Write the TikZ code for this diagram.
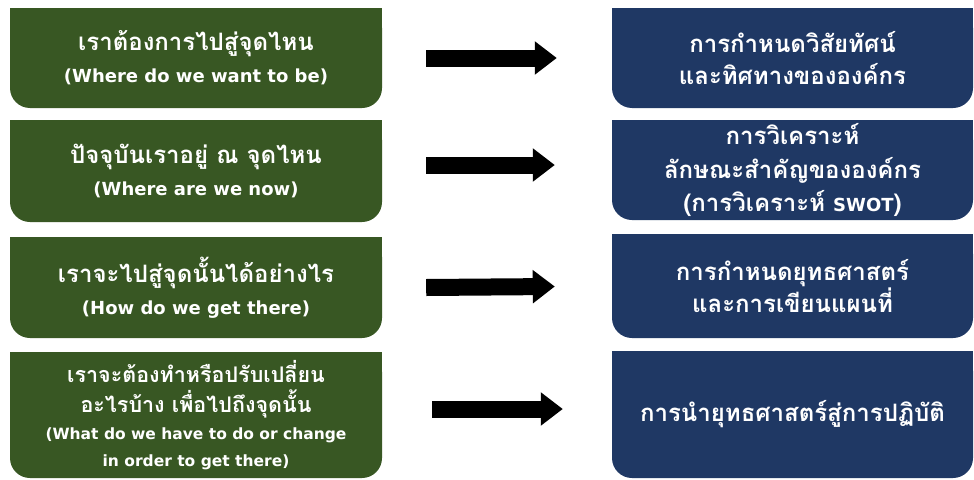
\documentclass[tikz,border=0pt]{standalone}
\usepackage{fontspec}
\newfontfamily\thaifont[Script=Thai]{Loma}
\newfontfamily\enfont{DejaVu Sans}
\usetikzlibrary{arrows.meta,backgrounds}
\definecolor{gbox}{HTML}{385723}
\definecolor{nbox}{HTML}{1F3864}
\tikzset{
  boxbase/.style={rectangle, rounded corners=20pt, text=white, align=center, inner sep=0pt,
    font=\fontsize{24}{32}\selectfont},
  lbox/.style={boxbase, fill=gbox, minimum width=372pt},
  rbox/.style={boxbase, fill=nbox, minimum width=361pt},
  bigarrow/.style={line width=17pt, -{Triangle[width=32pt,length=22pt]}},
}
\newcommand\thx[1]{{\thaifont\bfseries #1}}
\newcommand\enx[1]{{\enfont\bfseries\fontsize{18}{32}\selectfont #1}}
\newcommand\ensm[1]{{\enfont\bfseries\fontsize{15.5}{26.5}\selectfont #1}}
\begin{document}
\begin{tikzpicture}[x=1pt,y=-1pt]
\useasboundingbox (0,0) rectangle (974,479);
% left boxes
\node[lbox, minimum height=100pt] (L1) at (196,58)
  {\thx{เราต้องการไปสู่จุดไหน}\\ \enx{(Where do we want to be)}};
\node[lbox, minimum height=102pt] (L2) at (196,171)
  {\thx{ปัจจุบันเราอยู่ ณ จุดไหน}\\ \enx{(Where are we now)}};
\node[lbox, minimum height=101pt] (L3) at (196,287.5)
  {\thx{เราจะไปสู่จุดนั้นได้อย่างไร}\\ \enx{(How do we get there)}};
\node[lbox, minimum height=126pt, font=\fontsize{21.5}{30}\selectfont] (L4) at (196,415)
  {\thx{เราจะต้องทำหรือปรับเปลี่ยน}\\ \thx{อะไรบ้าง เพื่อไปถึงจุดนั้น}\\[-3pt] \ensm{(What do we have to do or change}\\[-3pt] \ensm{in order to get there)}};
% right boxes
\node[rbox, minimum height=100pt] (R1) at (792.5,58)
  {\thx{การกำหนดวิสัยทัศน์}\\ \thx{และทิศทางขององค์กร}};
\node[rbox, minimum height=100pt, font=\fontsize{24}{33.5}\selectfont] (R2) at (792.5,170)
  {\thx{การวิเคราะห์}\\ \thx{ลักษณะสำคัญขององค์กร}\\ \thx{(การวิเคราะห์ }\enx{SWOT}\thx{)}};
\node[rbox, minimum height=104pt] (R3) at (792.5,286)
  {\thx{การกำหนดยุทธศาสตร์}\\ \thx{และการเขียนแผนที่}};
\node[rbox, minimum height=127pt] (R4) at (792.5,414.5)
  {\thx{การนำยุทธศาสตร์สู่การปฏิบัติ}};
% white page and square top corners
\begin{scope}[on background layer]
  \fill[white] (0,0) rectangle (974,479);
  \foreach \n in {L1,L2,L3,L4} \fill[gbox] (\n.north west) rectangle (\n.east);
  \foreach \n in {R1,R2,R3,R4} \fill[nbox] (\n.north west) rectangle (\n.east);
\end{scope}
% arrows
\draw[bigarrow] ([xshift=44pt]L1.east) -- ([xshift=-55pt]R1.west);
\draw[bigarrow] ([xshift=44pt,yshift=6pt]L2.east) -- ([xshift=-57pt,yshift=5pt]R2.west);
\draw[bigarrow] ([xshift=44pt]L3.east) -- ([xshift=-57pt,yshift=-0.5pt]R3.west);
\draw[bigarrow] ([xshift=50pt,yshift=6pt]L4.east) -- ([xshift=-49pt,yshift=5.5pt]R4.west);
\end{tikzpicture}
\end{document}
